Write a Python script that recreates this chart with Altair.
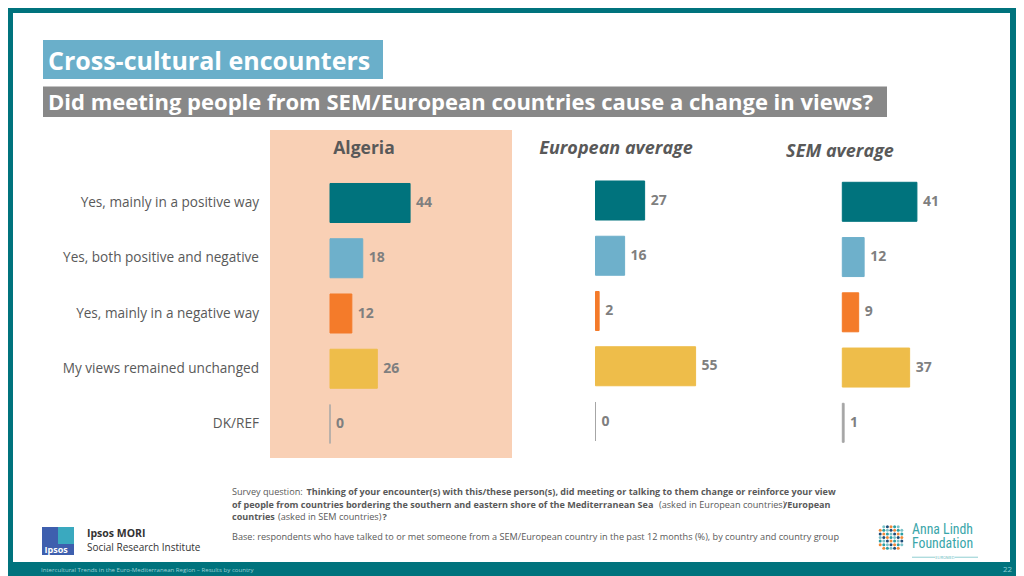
import altair as alt
import pandas as pd
import numpy as np

# ---------------- data ----------------
categories = [
    "Yes, mainly in a positive way",
    "Yes, both positive and negative",
    "Yes, mainly in a negative way",
    "My views remained unchanged",
    "DK/REF",
]
panels = ["Algeria", "European average", "SEM average"]
algeria = [44, 18, 12, 26, 0]
european = [27, 16, 2, 55, 0]
sem = [41, 12, 9, 37, 1]
bar_colors = ["#00737d", "#6eb0cb", "#f47b2a", "#eebd4a", "#a6a6a6"]

df = pd.DataFrame({
    "panel": [p for p in panels for _ in categories],
    "category": categories * 3,
    "value": algeria + european + sem,
})
cat_df = pd.DataFrame({"category": categories})

# ---------------- layout helpers (page px -> chart px) ----------------
W, H = 1008, 568
O = 8
FONT = "Open Sans"
GREY = "#595959"
TEAL = "#00737d"
one = pd.DataFrame({"k": [0]})


def X(v):
    return v - O


def Y(v):
    return v - O


def rect(x0, y0, x1, y1, color):
    return alt.Chart(one).mark_rect(color=color).encode(
        x=alt.value(X(x0)), x2=alt.value(X(x1)),
        y=alt.value(Y(y0)), y2=alt.value(Y(y1)))


def label(s, x, y, size, color=GREY, weight="normal", style="normal",
          align="left", font=FONT, **kw):
    return alt.Chart(one).mark_text(
        text=s, fontSize=size, color=color, fontWeight=weight,
        fontStyle=style, align=align, baseline="middle", font=font, **kw
    ).encode(x=alt.value(X(x)), y=alt.value(Y(y)))


layers = []

# white slide area inside the teal frame
layers.append(rect(13, 13, 1010, 562, "white"))

# title boxes
layers.append(rect(43, 40, 383, 79, "#6aafca"))
layers.append(label("Cross-cultural encounters", 48, 61.5, 25, "white", "bold"))
layers.append(rect(43, 86.5, 887, 117, "#888888"))
layers.append(label("Did meeting people from SEM/European countries cause a change in views?",
                    48, 102.5, 22, "white", "bold"))

# highlight behind Algeria
layers.append(rect(270, 130, 512, 458, "#f9d0b5"))

# panel headers
layers.append(label("Algeria", 364, 149, 17.5, GREY, "bold", align="center"))
layers.append(label("European average", 616, 149, 18, GREY, "bold", "italic", align="center"))
layers.append(label("SEM average", 840, 151.5, 18, GREY, "bold", "italic", align="center"))

# ---------------- bars ----------------
panel_x0 = {"Algeria": 330, "European average": 595.5, "SEM average": 842.3}
panel_dy = {"Algeria": 0, "European average": -2.5, "SEM average": -1.2}
PX_PER_UNIT = 1.82
ROW0, STEP = 203, 55.25

cscale = alt.Scale(domain=categories, range=bar_colors)


def yscale(dy):
    top = ROW0 - STEP / 2 + dy
    return alt.Scale(domain=categories, range=[Y(top), Y(top + 5 * STEP)],
                     paddingInner=0.294, paddingOuter=0.147)


# category labels
layers.append(
    alt.Chart(cat_df).mark_text(align="right", baseline="middle", fontSize=13.6,
                                color=GREY, font=FONT).encode(
        x=alt.value(X(259)),
        y=alt.Y("category:N", scale=yscale(0), axis=None),
        text="category:N",
    )
)

for p in panels:
    x0 = panel_x0[p]
    xs = alt.Scale(domain=[0, 100], range=[X(x0), X(x0) + 100 * PX_PER_UNIT])
    ys = yscale(panel_dy[p])
    base = alt.Chart(df).transform_filter(alt.datum.panel == p)
    layers.append(
        base.mark_bar(strokeWidth=1).encode(
            x=alt.X("value:Q", scale=xs, axis=None),
            y=alt.Y("category:N", scale=ys, axis=None),
            color=alt.Color("category:N", scale=cscale, legend=None),
            stroke=alt.Stroke("category:N", scale=cscale, legend=None),
        )
    )
    layers.append(
        base.mark_text(align="left", baseline="middle", dx=6, fontSize=14,
                       fontWeight="bold", color="#7f7f7f", font=FONT).encode(
            x=alt.X("value:Q", scale=xs, axis=None),
            y=alt.Y("category:N", scale=ys, axis=None),
            text="value:Q",
        )
    )

# ---------------- footnote ----------------
FS = 9.15
FB = 9.05
layers += [
    label("Survey question:", 232, 492, FS),
    label("Thinking of your encounter(s) with this/these person(s), did meeting or talking to them change or reinforce your view",
          306.5, 492, FB, GREY, "bold"),
    label("of people from countries bordering the southern and eastern shore of the Mediterranean Sea",
          232, 504.5, FB, GREY, "bold"),
    label("(asked in European countries)", 659, 504.5, FS),
    label("/European", 783.5, 504.5, FB, GREY, "bold"),
    label("countries", 232, 517, FB, GREY, "bold"),
    label("(asked in SEM countries)", 278, 517, FS),
    label("?", 382.5, 517, FB, GREY, "bold"),
    label("Base: respondents who have talked to or met someone from a SEM/European country in the past 12 months (%), by country and country group",
          232, 536.5, FS),
]

# ---------------- Ipsos logo ----------------
layers.append(rect(42, 527, 74, 555, "#3e5fae"))
layers.append(rect(58, 527, 74, 544, "#3aa9bf"))
layers.append(label("Ipsos", 44.5, 549.5, 9, "white", "bold"))
layers.append(label("Ipsos MORI", 87, 534, 10.5, "#333333", "bold"))
layers.append(label("Social Research Institute", 87, 547.5, 10, "#333333"))

# ---------------- Anna Lindh logo ----------------
pts = []
logo_cols = ["#2a9ea3", "#f08a3c", "#1f4e79", "#7cc3c8"]
for i in range(-4, 5):
    for j in range(-4, 5):
        if i * i + j * j <= 13:
            pts.append({"x": X(891 + i * 3.6), "y": Y(537.5 + j * 3.6),
                        "c": logo_cols[(i * 3 + j * 5 + 40) % 4]})
dots = pd.DataFrame(pts)
layers.append(
    alt.Chart(dots).mark_circle(size=9, opacity=1).encode(
        x=alt.X("x:Q", scale=None), y=alt.Y("y:Q", scale=None),
        color=alt.Color("c:N", scale=None),
    )
)
NARROW = "Liberation Sans Narrow, Roboto Condensed, Roboto"
layers.append(label(["Anna Lindh", "Foundation"], 912, 530, 13.8, "#3aa6aa", "normal",
                    font=NARROW, lineHeight=13.5))
layers.append(rect(912, 556.8, 935, 557.5, "#5fb8bc"))
layers.append(rect(955, 556.8, 978, 557.5, "#5fb8bc"))
layers.append(label("EUROMED", 945, 557.5, 4, "#5fb8bc", align="center"))

# ---------------- footer on teal frame ----------------
layers.append(label("Intercultural Trends in the Euro-Mediterranean Region –  Results by country",
                    41, 570, 6.1, "#9fd0d4"))
layers.append(label("22", 1003, 570, 8, "#8ccfd4"))

chart = alt.layer(*layers).resolve_scale(
    x="independent", y="independent"
).properties(
    width=W, height=H, padding=0,
    autosize=alt.AutoSizeParams(type="none"),
    background=TEAL,
).configure_view(stroke=None)

chart.save("out.html", embed_options={"renderer": "svg", "actions": False})
